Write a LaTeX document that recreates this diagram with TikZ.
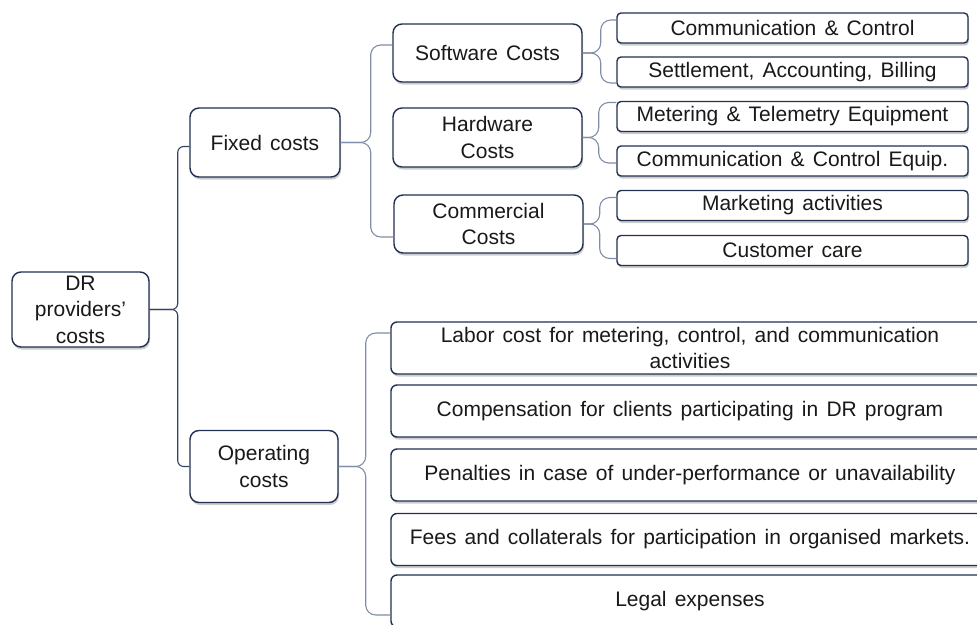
\documentclass[tikz,border=0pt]{standalone}
\usepackage{fontspec}
\setmainfont{Liberation Sans}[WordSpace=1.4]
\usepackage{tikz}
\usetikzlibrary{shadows}

\definecolor{boxline}{HTML}{1F3050}
\definecolor{darklink}{HTML}{34445F}
\definecolor{lightlink}{HTML}{7F8EA8}

\begin{document}
\begin{tikzpicture}
[x=1pt,y=-1pt,
	 box/.style={draw=boxline,line width=1.4pt,fill=white,rounded corners=9pt,inner sep=0pt,align=center,
	   font=\fontsize{21}{26.5}\selectfont,text=black!90,
	   drop shadow={shadow xshift=1pt,shadow yshift=-2.5pt,fill=black!40,opacity=0.5}},
	 leaf/.style={box,rounded corners=4pt,minimum width=351pt,minimum height=30pt},
	 wide/.style={box,rounded corners=6pt,minimum width=598pt,minimum height=52pt},
	 rootlink/.style={draw=darklink,line width=1.1pt,rounded corners=6pt},
	 link/.style={draw=lightlink,line width=1.1pt,rounded corners=10pt}];
\useasboundingbox (0,0) rectangle (977,624);
\clip (0,0) rectangle (977,624);

\node[box,minimum width=137pt,minimum height=75pt] (root) at (80.5,309.5) {DR\\providers'\\costs};
\node[box,minimum width=150pt,minimum height=69pt] (fixed) at (265,142.5) {Fixed costs};
\node[box,minimum width=148pt,minimum height=72pt] (oper) at (264,466.5) {Operating\\costs};

\node[box,minimum width=189pt,minimum height=58pt] (soft) at (487.5,53) {Software Costs};
\node[box,minimum width=189pt,minimum height=59pt] (hard) at (487.5,137.5) {Hardware\\Costs};
\node[box,minimum width=189pt,minimum height=58pt] (comm) at (488.5,224) {Commercial\\Costs};

\node[leaf] (commctrl) at (792.5,28) {Communication \& Control};
\node[leaf] (settle) at (792.5,72) {Settlement, Accounting, Billing};
\node[leaf] (meter) at (792.5,116.5) {Metering \& Telemetry Equipment};
\node[leaf] (equip) at (792.5,161) {Communication \& Control Equip.};
\node[leaf] (market) at (792.5,205.5) {Marketing activities};
\node[leaf] (care) at (792.5,250.5) {Customer care};

\node[wide] (labor) at (690,348) {Labor cost for metering, control, and communication\\activities};
\node[wide] (comp) at (690,411) {Compensation for clients participating in DR program};
\node[wide] (penal) at (690,475) {Penalties in case of under-performance or unavailability};
\node[wide] (fees) at (690,539.5) {Fees and collaterals for participation in organised markets.};
\node[wide] (legal) at (690,601) {Legal expenses};

% braces
\draw[rootlink] (root.east) -- ++(28,0) |- ([yshift=-4pt]fixed.west);
\draw[rootlink] (root.east) -- ++(28,0) |- (oper.west);

\draw[link] (fixed.east) -- ++(30,0) |- ([yshift=8pt]soft.west);
\draw[link] (fixed.east) -- ++(30,0) |- ([yshift=-13pt]comm.west);

\draw[link] (soft.east) -- ++(18,0) |- ([yshift=8pt]commctrl.west);
\draw[link] (soft.east) -- ++(18,0) |- ([yshift=-11pt]settle.west);

\draw[link] (hard.east) -- ++(16,0) |- ([yshift=14pt]meter.west);
\draw[link] (hard.east) -- ++(16,0) |- ([yshift=-2pt]equip.west);

\draw[link] (comm.east) -- ++(16,0) |- ([yshift=8pt]market.west);
\draw[link] (comm.east) -- ++(16,0) |- ([yshift=-8pt]care.west);

\draw[link] (oper.east) -- ++(27,0) |- ([yshift=15pt]labor.west);
\draw[link] (oper.east) -- ++(27,0) |- ([yshift=-14pt]legal.west);

\end{tikzpicture}
\end{document}
